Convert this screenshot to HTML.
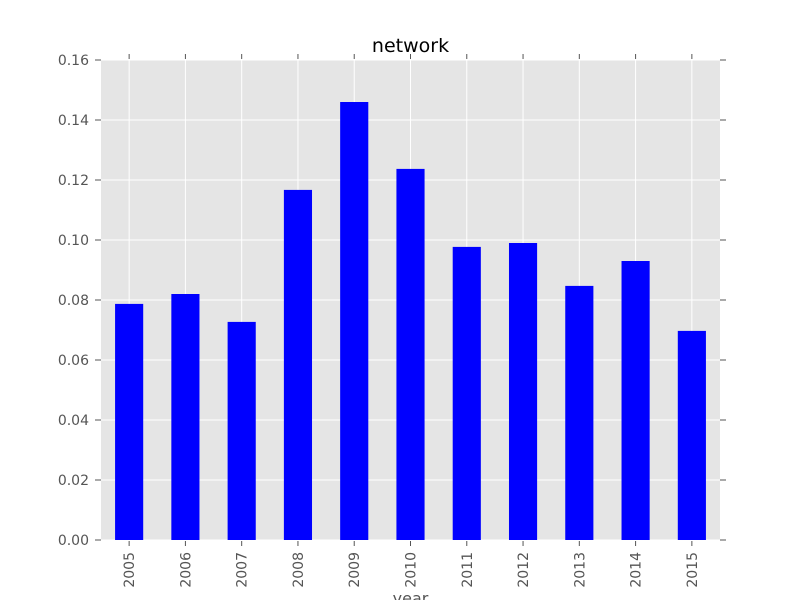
<!DOCTYPE html>
<html><head><meta charset="utf-8"><style>
body{margin:0;background:#fff;}
svg{display:block;font-family:"DejaVu Sans","Liberation Sans",sans-serif;}
</style></head><body>
<svg id="chart" width="800" height="600"></svg>
<script>
const categories=["2005","2006","2007","2008","2009","2010","2011","2012","2013","2014","2015"];
const values=[0.0787,0.082,0.0727,0.1167,0.146,0.1237,0.0977,0.099,0.0847,0.093,0.0697];
const yTicks=[0,0.02,0.04,0.06,0.08,0.10,0.12,0.14,0.16];
const yTickLabels=["0.00","0.02","0.04","0.06","0.08","0.10","0.12","0.14","0.16"];
const L=101,R=720,T=60,B=540;
const yMax=0.16;
const y=v=>B-(v/yMax)*(B-T);
const step=(R-L)/categories.length;
const xc=i=>L+step*(i+0.5);
const NS="http://www.w3.org/2000/svg";
const svg=document.getElementById('chart');
function mk(tag,attrs,parent){const e=document.createElementNS(NS,tag);for(const k in attrs)e.setAttribute(k,attrs[k]);(parent||svg).appendChild(e);return e;}
const bg=mk('rect',{x:L,y:T,width:R-L,height:B-T,fill:'#e5e5e5'});


yTicks.forEach((t,i)=>{
 const g=mk('line',{x1:L,x2:R,y1:y(t),y2:y(t),stroke:'#fff','stroke-width':1});
 
 
 mk('line',{x1:L-6,x2:L,y1:y(t),y2:y(t),stroke:'#555'});
 mk('line',{x1:R,x2:R+6,y1:y(t),y2:y(t),stroke:'#555'});
 const tx=mk('text',{x:L-12,y:y(t)+5,'text-anchor':'end','font-size':14,fill:'#555'});
 tx.textContent=yTickLabels[i];
 
 
});
categories.forEach((c,i)=>{
 const x=xc(i);
 const g=mk('line',{x1:x,x2:x,y1:T,y2:B,stroke:'#fff','stroke-width':1});
 
 
});
categories.forEach((c,i)=>{
 const x=xc(i),w=step*0.5;
 const b=mk('rect',{x:x-w/2,y:y(values[i]),width:w,height:B-y(values[i]),fill:'#0000ff'});
 
 
 mk('line',{x1:x,x2:x,y1:B+1,y2:B+6,stroke:'#555'});
 mk('line',{x1:x,x2:x,y1:T-6,y2:T-1,stroke:'#555'});
 const tx=mk('text',{x:0,y:0,'text-anchor':'end','font-size':14,fill:'#555',transform:`translate(${x+5},${B+12}) rotate(-90)`});
 tx.textContent=c;
 
 
});
const title=mk('text',{x:(L+R)/2,y:52,'text-anchor':'middle','font-size':19,fill:'#000'});
title.textContent='network';


const xl=mk('text',{x:(L+R)/2,y:604,'text-anchor':'middle','font-size':16,fill:'#555'});
xl.textContent='year';


</script>
</body></html>
